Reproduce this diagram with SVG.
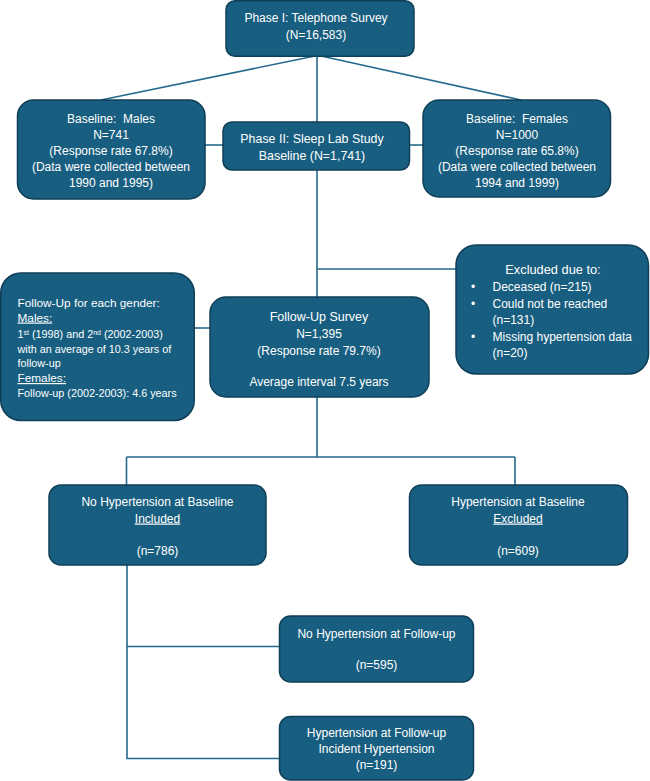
<svg xmlns="http://www.w3.org/2000/svg" width="650" height="781" viewBox="0 0 650 781">
<style>
.box{fill:#185e80;stroke:#0f3e57;stroke-width:1.5}
.t{font-family:"Liberation Sans",Arial,sans-serif;font-size:12px;fill:#ffffff;text-anchor:middle;white-space:pre}
.l{font-family:"Liberation Sans",Arial,sans-serif;font-size:10.8px;fill:#ffffff}
.b{font-family:"Liberation Sans",Arial,sans-serif;font-size:12px;fill:#ffffff}
.u{text-decoration:underline}
#connectors path{fill:none;stroke:#256a8d;stroke-width:1.6}
</style>
<rect width="650" height="781" fill="#ffffff"/>
<g id="connectors">
<path d="M315,56 L101,100"/>
<path d="M321,56 L521,100"/>
<path d="M317,56 V122"/>
<path d="M205,145 H223"/>
<path d="M409,145 H423"/>
<path d="M317,170 V297"/>
<path d="M317,269 H456"/>
<path d="M194,328 H210"/>
<path d="M317,397 V457"/>
<path d="M126.5,457 H515"/>
<path d="M126.5,457 V485"/>
<path d="M515,457 V485"/>
<path d="M127,565 V758.5 H279"/>
<path d="M127,646.5 H279"/>
</g>
<g id="phase1">
<rect class="box" x="226" y="0.75" width="188" height="55.5" rx="9"/>
<text class="t" x="316" y="21.5">Phase I: Telephone Survey</text>
<text class="t" x="316" y="39">(N=16,583)</text>
</g>
<g id="males">
<rect class="box" x="17.5" y="100" width="187.5" height="99" rx="16"/>
<text class="t" x="111" y="122.5">Baseline:  Males</text>
<text class="t" x="111" y="139">N=741</text>
<text class="t" x="111" y="155">(Response rate 67.8%)</text>
<text class="t" x="111" y="170.5">(Data were collected between</text>
<text class="t" x="111" y="187">1990 and 1995)</text>
</g>
<g id="phase2">
<rect class="box" x="223" y="122" width="186.5" height="48" rx="9"/>
<text class="t" x="312" y="142.5" style="font-size:12.4px">Phase II: Sleep Lab Study</text>
<text class="t" x="312" y="160" style="font-size:12.4px">Baseline (N=1,741)</text>
</g>
<g id="females">
<rect class="box" x="423" y="100" width="187.5" height="97" rx="16"/>
<text class="t" x="517" y="122.5">Baseline:  Females</text>
<text class="t" x="517" y="139">N=1000</text>
<text class="t" x="517" y="155">(Response rate 65.8%)</text>
<text class="t" x="517" y="170.5">(Data were collected between</text>
<text class="t" x="517" y="187">1994 and 1999)</text>
</g>
<g id="excluded">
<rect class="box" x="456" y="245" width="192.5" height="129" rx="20"/>
<text class="t" x="553" y="274" style="font-size:12.8px">Excluded due to:</text>
<text class="b" x="471" y="291">•</text>
<text class="b" x="492.5" y="291">Deceased (n=215)</text>
<text class="b" x="471" y="307.5">•</text>
<text class="b" x="492.5" y="307.5">Could not be reached</text>
<text class="b" x="492.5" y="324">(n=131)</text>
<text class="b" x="471" y="340.5">•</text>
<text class="b" x="492.5" y="340.5">Missing hypertension data</text>
<text class="b" x="492.5" y="357">(n=20)</text>
</g>
<g id="followup-info">
<rect class="box" x="0.75" y="273" width="193.5" height="147.5" rx="20"/>
<text class="l" x="17.5" y="306.5" style="font-size:11.8px">Follow-Up for each gender:</text>
<text class="l u" x="17.5" y="321.5" style="font-size:11.8px">Males:</text>
<text class="l" x="17.5" y="338">1<tspan font-size="7" baseline-shift="super">st</tspan> (1998) and 2<tspan font-size="7" baseline-shift="super">nd</tspan> (2002-2003)</text>
<text class="l" x="17.5" y="353">with an average of 10.3 years of</text>
<text class="l" x="17.5" y="367">follow-up</text>
<text class="l u" x="17.5" y="382" style="font-size:11.8px">Females:</text>
<text class="l" x="17.5" y="397">Follow-up (2002-2003): 4.6 years</text>
</g>
<g id="followup-survey">
<rect class="box" x="210" y="297" width="219" height="100" rx="16"/>
<text class="t" x="319" y="321" style="font-size:12.5px">Follow-Up Survey</text>
<text class="t" x="319" y="338">N=1,395</text>
<text class="t" x="319" y="354.5">(Response rate 79.7%)</text>
<text class="t" x="319" y="385.5">Average interval 7.5 years</text>
</g>
<g id="no-ht-baseline">
<rect class="box" x="49" y="485" width="217" height="80" rx="12"/>
<text class="t" x="157.5" y="506">No Hypertension at Baseline</text>
<text class="t u" x="157.5" y="522.5">Included</text>
<text class="t" x="157.5" y="554.5">(n=786)</text>
</g>
<g id="ht-baseline">
<rect class="box" x="409.5" y="485" width="218" height="80" rx="12"/>
<text class="t" x="518" y="506">Hypertension at Baseline</text>
<text class="t u" x="518" y="522.5">Excluded</text>
<text class="t" x="518" y="554.5">(n=609)</text>
</g>
<g id="no-ht-followup">
<rect class="box" x="279.5" y="616" width="194" height="66" rx="11"/>
<text class="t" x="376.5" y="637.5">No Hypertension at Follow-up</text>
<text class="t" x="376.5" y="669">(n=595)</text>
</g>
<g id="ht-followup">
<rect class="box" x="279.5" y="716.5" width="194" height="63.5" rx="11"/>
<text class="t" x="376.5" y="737">Hypertension at Follow-up</text>
<text class="t" x="376.5" y="752.5">Incident Hypertension</text>
<text class="t" x="376.5" y="769">(n=191)</text>
</g>
</svg>
